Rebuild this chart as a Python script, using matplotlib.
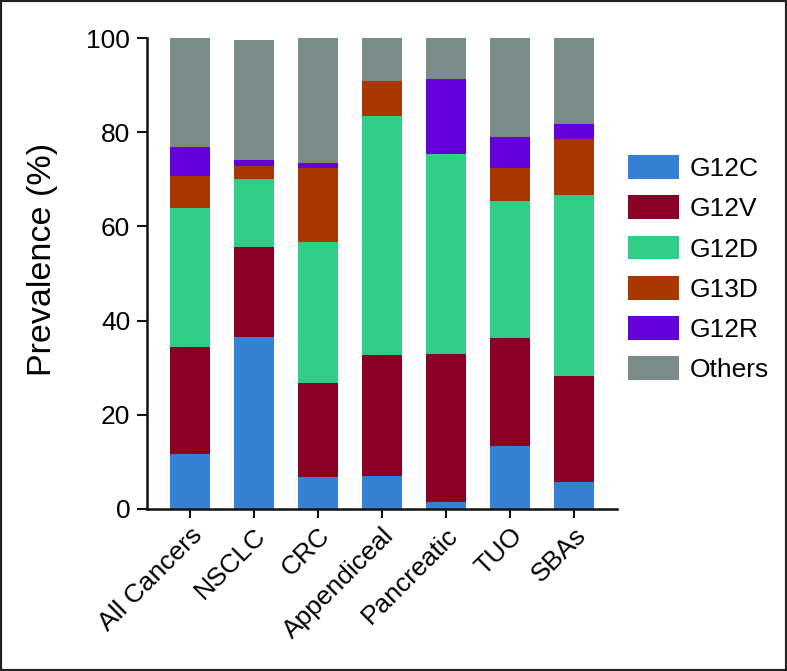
import matplotlib.pyplot as plt
import numpy as np
from matplotlib.patches import Rectangle
from matplotlib.transforms import ScaledTranslation

plt.rcParams["font.family"] = ["Liberation Sans", "DejaVu Sans"]

categories = ["All Cancers", "NSCLC", "CRC", "Appendiceal", "Pancreatic", "TUO", "SBAs"]
mutations = ["G12C", "G12V", "G12D", "G13D", "G12R", "Others"]
colors = ["#3580d5", "#8a0024", "#2fcd86", "#a83800", "#6400da", "#7b8b89"]

# prevalence (%) per mutation, one value per cancer type
g12c = [11.6, 36.5, 6.7, 7.1, 1.5, 13.4, 5.7]
g12v = [22.9, 19.1, 20.0, 25.7, 31.5, 23.0, 22.5]
g12d = [29.5, 14.5, 30.0, 50.7, 42.3, 29.0, 38.4]
g13d = [6.6, 2.8, 15.8, 7.4, 0.0, 7.0, 12.0]
g12r = [6.2, 1.1, 1.0, 0.0, 16.0, 6.5, 3.2]
others = [23.2, 25.6, 26.5, 9.1, 8.7, 21.1, 18.2]

series = [g12c, g12v, g12d, g13d, g12r, others]

fig = plt.figure(figsize=(7.87, 6.71), dpi=100)
ax = fig.add_axes([147 / 787, 1 - 509 / 671, 470 / 787, 471 / 671])

x = np.arange(len(categories))
bottom = np.zeros(len(categories))
for name, vals, c in zip(mutations, series, colors):
    ax.bar(x, vals, bottom=bottom, width=0.63, color=c, label=name,
           edgecolor="none")
    bottom += np.array(vals)

ax.set_xlim(-0.67, 6.67)
ax.set_ylim(0, 100)
ax.set_yticks([0, 20, 40, 60, 80, 100])
ax.set_xticks(x)
ax.set_xticklabels(categories, rotation=45, ha="right", va="center",
                   rotation_mode="anchor", fontsize=19)
ax.tick_params(axis="y", labelsize=19, length=7, width=1.5, pad=5, color="#111")
ax.tick_params(axis="x", length=6.5, width=1.5, pad=10, color="#111")
shift = ScaledTranslation(6 / 72, 0, fig.dpi_scale_trans)
for lbl in ax.get_xticklabels():
    lbl.set_transform(lbl.get_transform() + shift)
for s in ["top", "right"]:
    ax.spines[s].set_visible(False)
for s in ["left", "bottom"]:
    ax.spines[s].set_linewidth(1.8)
    ax.spines[s].set_color("#111")
ax.set_ylabel("Prevalence (%)", fontsize=24.5)
ax.yaxis.set_label_coords(-0.19, 0.529)

ax.legend(loc="upper left", bbox_to_anchor=(628 / 787, 1 - 155 / 671),
          bbox_transform=fig.transFigure, frameon=False, fontsize=19,
          borderpad=0, borderaxespad=0, handlelength=1.93, handleheight=1.02,
          labelspacing=0.54, handletextpad=0.42)

fig.add_artist(Rectangle((0, 0), 1, 1, transform=fig.transFigure, fill=False,
                         lw=3, ec="#222"))

fig.savefig("out.png", dpi=100)
